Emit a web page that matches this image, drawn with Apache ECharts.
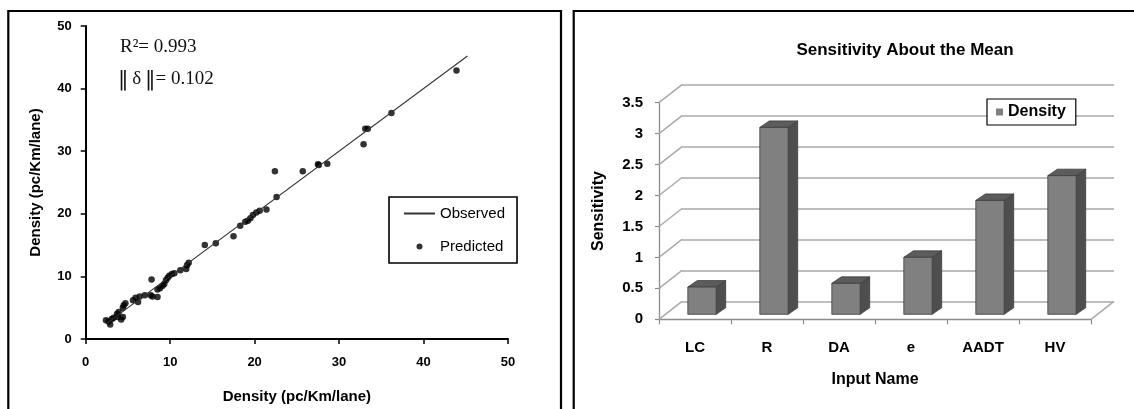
<!DOCTYPE html>
<html>
<head>
<meta charset="utf-8">
<script src="https://cdn.jsdelivr.net/npm/echarts@6/dist/echarts.min.js"></script>
<style>
html,body{margin:0;padding:0;background:#fff;}
#chart{width:1134px;height:409px;}
</style>
</head>
<body>
<div id="chart"></div>
<script>
// ---- Left chart data ----
const observedLine = [[2.5, 2.5], [45.2, 45.2]];
const predicted = [
  [43.9, 42.9], [36.2, 36.1], [33.1, 33.6], [33.4, 33.6], [32.9, 31.1],
  [28.6, 28.0], [27.6, 27.8], [27.5, 27.9], [25.7, 26.8], [22.4, 26.8],
  [22.6, 22.7], [21.4, 20.7], [20.6, 20.5], [20.2, 20.2], [19.8, 19.8],
  [19.5, 19.3], [19.2, 18.9], [18.9, 18.75], [18.3, 18.1], [17.5, 16.4],
  [15.4, 15.3], [14.1, 15.0], [12.2, 12.2], [12.0, 11.8], [11.9, 11.2],
  [11.2, 11.0], [10.5, 10.5], [10.2, 10.4], [9.9, 10.1], [9.7, 9.8],
  [9.5, 9.4], [9.3, 8.8], [9.1, 8.5], [8.8, 8.1], [8.5, 7.9],
  [8.5, 6.7], [7.8, 9.5], [7.9, 6.8], [7.7, 7.0], [7.0, 7.0],
  [6.4, 6.8], [6.2, 5.9], [5.9, 6.6], [5.6, 6.2], [4.7, 5.7],
  [4.4, 5.0], [4.5, 5.4], [3.9, 4.3], [3.7, 4.0], [3.8, 3.5],
  [3.3, 3.4], [4.2, 3.1], [4.4, 3.5], [2.9, 2.3], [2.7, 2.8],
  [2.4, 3.0], [3.1, 3.2]
];
const leftTicks = [0, 10, 20, 30, 40, 50];

// ---- Right chart data ----
const inputNames = ['LC', 'R', 'DA', 'e', 'AADT', 'HV'];
const sensitivity = [0.44, 3.02, 0.50, 0.92, 1.84, 2.24];
const sensTicks = [0, 0.5, 1, 1.5, 2, 2.5, 3, 3.5];

const FONT = '"Liberation Sans", Arial, sans-serif';
const SERIF = '"Liberation Serif", "Times New Roman", serif';

// 3D look constants (pixels)
const WALL_DX = 23, WALL_DY = 18;
const BAR_SHIFT_X = 7, BAR_SHIFT_Y = 5;
const BAR_DX = 9.5, BAR_DY = 6.5;
const BAR_RATIO = 0.394;

const chart = echarts.init(document.getElementById('chart'), null, {renderer: 'canvas'});

const option = {
  animation: false,
  backgroundColor: '#fff',
  title: [{
    text: 'Sensitivity About the Mean',
    left: 900, top: 37, textAlign: 'center',
    textStyle: {fontFamily: FONT, fontWeight: 'bold', fontSize: 17, color: '#000'}
  }],
  legend: [{
    data: [
      {name: 'Observed', itemStyle: {color: 'rgba(0,0,0,0)', borderColor: 'rgba(0,0,0,0)'}},
      {name: 'Predicted'}
    ],
    orient: 'vertical', align: 'left',
    left: 389, top: 197,
    itemWidth: 31, itemHeight: 6, itemGap: 18,
    padding: [9, 12, 9, 14],
    borderColor: '#000', borderWidth: 1.6, backgroundColor: '#fff',
    textStyle: {fontFamily: FONT, fontSize: 15, color: '#000'}
  }, {
    data: [{name: 'Density', icon: 'rect'}],
    left: 987, top: 99,
    itemWidth: 7, itemHeight: 7,
    padding: [5, 10, 5, 9],
    borderColor: '#000', borderWidth: 1.2, backgroundColor: '#fff',
    textStyle: {fontFamily: FONT, fontSize: 16, fontWeight: 'bold', color: '#000'}
  }],
  grid: [
    {left: 85.7, top: 26, width: 422.3, height: 314.7},
    {left: 659, top: 102.7, width: 432, height: 216.6},
    {left: 659 + WALL_DX, top: 102.7 - WALL_DY, width: 432, height: 216.6}
  ],
  xAxis: [{
    gridIndex: 0, type: 'value', min: 0, max: 50, interval: 10,
    name: 'Density (pc/Km/lane)', nameLocation: 'middle', nameGap: 50,
    nameTextStyle: {fontFamily: FONT, fontWeight: 'bold', fontSize: 15, color: '#000'},
    axisLine: {show: true, onZero: false, lineStyle: {color: '#000', width: 2}},
    axisTick: {show: true, length: 5, lineStyle: {color: '#000', width: 1.5}},
    axisLabel: {margin: 17, fontFamily: FONT, fontWeight: 'bold', fontSize: 13, color: '#000'},
    splitLine: {show: false}
  }, {
    gridIndex: 1, type: 'category', data: inputNames,
    name: 'Input Name', nameLocation: 'middle', nameGap: 52,
    nameTextStyle: {fontFamily: FONT, fontWeight: 'bold', fontSize: 16, color: '#000'},
    axisLine: {show: true, lineStyle: {color: '#8c8c8c', width: 1.3}},
    axisTick: {show: true, length: 5, interval: 0, lineStyle: {color: '#8c8c8c', width: 1.2}},
    axisLabel: {margin: 21, interval: 0, fontFamily: FONT, fontWeight: 'bold', fontSize: 15, color: '#000'},
    splitLine: {show: false}
  }, {
    gridIndex: 2, type: 'category', data: inputNames, show: false
  }],
  yAxis: [{
    gridIndex: 0, type: 'value', min: 0, max: 50, interval: 10,
    name: 'Density (pc/Km/lane)', nameLocation: 'middle', nameGap: 42,
    nameTextStyle: {fontFamily: FONT, fontWeight: 'bold', fontSize: 15, color: '#000'},
    axisLine: {show: true, onZero: false, lineStyle: {color: '#000', width: 2}},
    axisTick: {show: true, length: 5, lineStyle: {color: '#000', width: 1.5}},
    axisLabel: {margin: 14, fontFamily: FONT, fontWeight: 'bold', fontSize: 13, color: '#000'},
    splitLine: {show: false}
  }, {
    gridIndex: 1, type: 'value', min: 0, max: 3.5, interval: 0.5,
    name: 'Sensitivity', nameLocation: 'middle', nameGap: 52,
    nameTextStyle: {fontFamily: FONT, fontWeight: 'bold', fontSize: 16, color: '#000'},
    axisLine: {show: true, lineStyle: {color: '#8c8c8c', width: 1.3}},
    axisTick: {show: true, length: 4, lineStyle: {color: '#8c8c8c', width: 1.2}},
    axisLabel: {margin: 16, fontFamily: FONT, fontWeight: 'bold', fontSize: 15, color: '#000'},
    splitLine: {show: false}
  }, {
    gridIndex: 2, type: 'value', min: 0, max: 3.5, interval: 0.5,
    axisLine: {show: false}, axisTick: {show: false}, axisLabel: {show: false},
    splitLine: {show: true, lineStyle: {color: '#a9a9a9', width: 1.5}}
  }],
  series: [{
    name: 'Observed', type: 'line', xAxisIndex: 0, yAxisIndex: 0,
    data: observedLine, symbol: 'none',
    lineStyle: {color: '#333', width: 1.1},
    itemStyle: {color: '#333'}
  }, {
    name: 'Predicted', type: 'scatter', xAxisIndex: 0, yAxisIndex: 0,
    data: predicted, symbolSize: 6.5,
    itemStyle: {color: '#000'}
  }, {
    name: 'wallEdges', type: 'custom', xAxisIndex: 1, yAxisIndex: 1, clip: false,
    data: sensTicks.map(v => [0, v]),
    encode: {x: 0, y: 1},
    renderItem: function (params, api) {
      const p = api.coord([api.value(0), api.value(1)]);
      const band = api.size([1, 0])[0];
      const x0 = p[0] - band / 2;
      return {
        type: 'line', silent: true,
        shape: {x1: x0, y1: p[1], x2: x0 + WALL_DX, y2: p[1] - WALL_DY},
        style: {stroke: '#a9a9a9', lineWidth: 1.5}
      };
    }
  }, {
    name: 'floorEdge', type: 'custom', xAxisIndex: 1, yAxisIndex: 1, clip: false,
    data: [[inputNames.length - 1, 0]],
    encode: {x: 0, y: 1},
    renderItem: function (params, api) {
      const p = api.coord([api.value(0), api.value(1)]);
      const band = api.size([1, 0])[0];
      const x0 = p[0] + band / 2;
      return {
        type: 'line', silent: true,
        shape: {x1: x0, y1: p[1], x2: x0 + WALL_DX, y2: p[1] - WALL_DY},
        style: {stroke: '#a9a9a9', lineWidth: 1.5}
      };
    }
  }, {
    name: 'Density', type: 'custom', xAxisIndex: 1, yAxisIndex: 1, clip: false,
    data: sensitivity.map((v, i) => [i, v]),
    encode: {x: 0, y: 1},
    itemStyle: {color: '#808080'},
    renderItem: function (params, api) {
      const top = api.coord([api.value(0), api.value(1)]);
      const base = api.coord([api.value(0), 0]);
      const band = api.size([1, 0])[0];
      const w = band * BAR_RATIO;
      const cx = top[0] + BAR_SHIFT_X;
      const l = cx - w / 2, r = cx + w / 2;
      const t = top[1] - BAR_SHIFT_Y, b = base[1] - BAR_SHIFT_Y;
      const stroke = '#3c3c3c';
      return {
        type: 'group',
        children: [{
          type: 'polygon',
          shape: {points: [[r, t], [r + BAR_DX, t - BAR_DY], [r + BAR_DX, b - BAR_DY], [r, b]]},
          style: {fill: '#4e4e4e', stroke: stroke, lineWidth: 0.8}
        }, {
          type: 'polygon',
          shape: {points: [[l, t], [l + BAR_DX, t - BAR_DY], [r + BAR_DX, t - BAR_DY], [r, t]]},
          style: {fill: '#5c5c5c', stroke: stroke, lineWidth: 0.8}
        }, {
          type: 'rect',
          shape: {x: l, y: t, width: w, height: b - t},
          style: {fill: '#808080', stroke: stroke, lineWidth: 0.8}
        }]
      };
    }
  }],
  graphic: [{
    type: 'rect', silent: true, z: 100,
    shape: {x: 8.3, y: 11, width: 552.7, height: 430},
    style: {fill: 'none', stroke: '#000', lineWidth: 2.2}
  }, {
    type: 'rect', silent: true, z: 100,
    shape: {x: 573.7, y: 11, width: 600, height: 430},
    style: {fill: 'none', stroke: '#000', lineWidth: 2.2}
  }, {
    type: 'text', left: 120, top: 38, silent: true,
    style: {text: 'R²= 0.993', font: '19px ' + SERIF, fill: '#111'}
  }, {
    type: 'text', left: 118, top: 69, silent: true,
    style: {
      text: '{b|‖}\u2009δ\u2009{b|‖}= 0.102',
      font: '19px ' + SERIF, fill: '#111',
      rich: {b: {fontFamily: '"DejaVu Serif", serif', fontSize: 21, fill: '#111'}}
    }
  }]
};

chart.setOption(option);
</script>
</body>
</html>
